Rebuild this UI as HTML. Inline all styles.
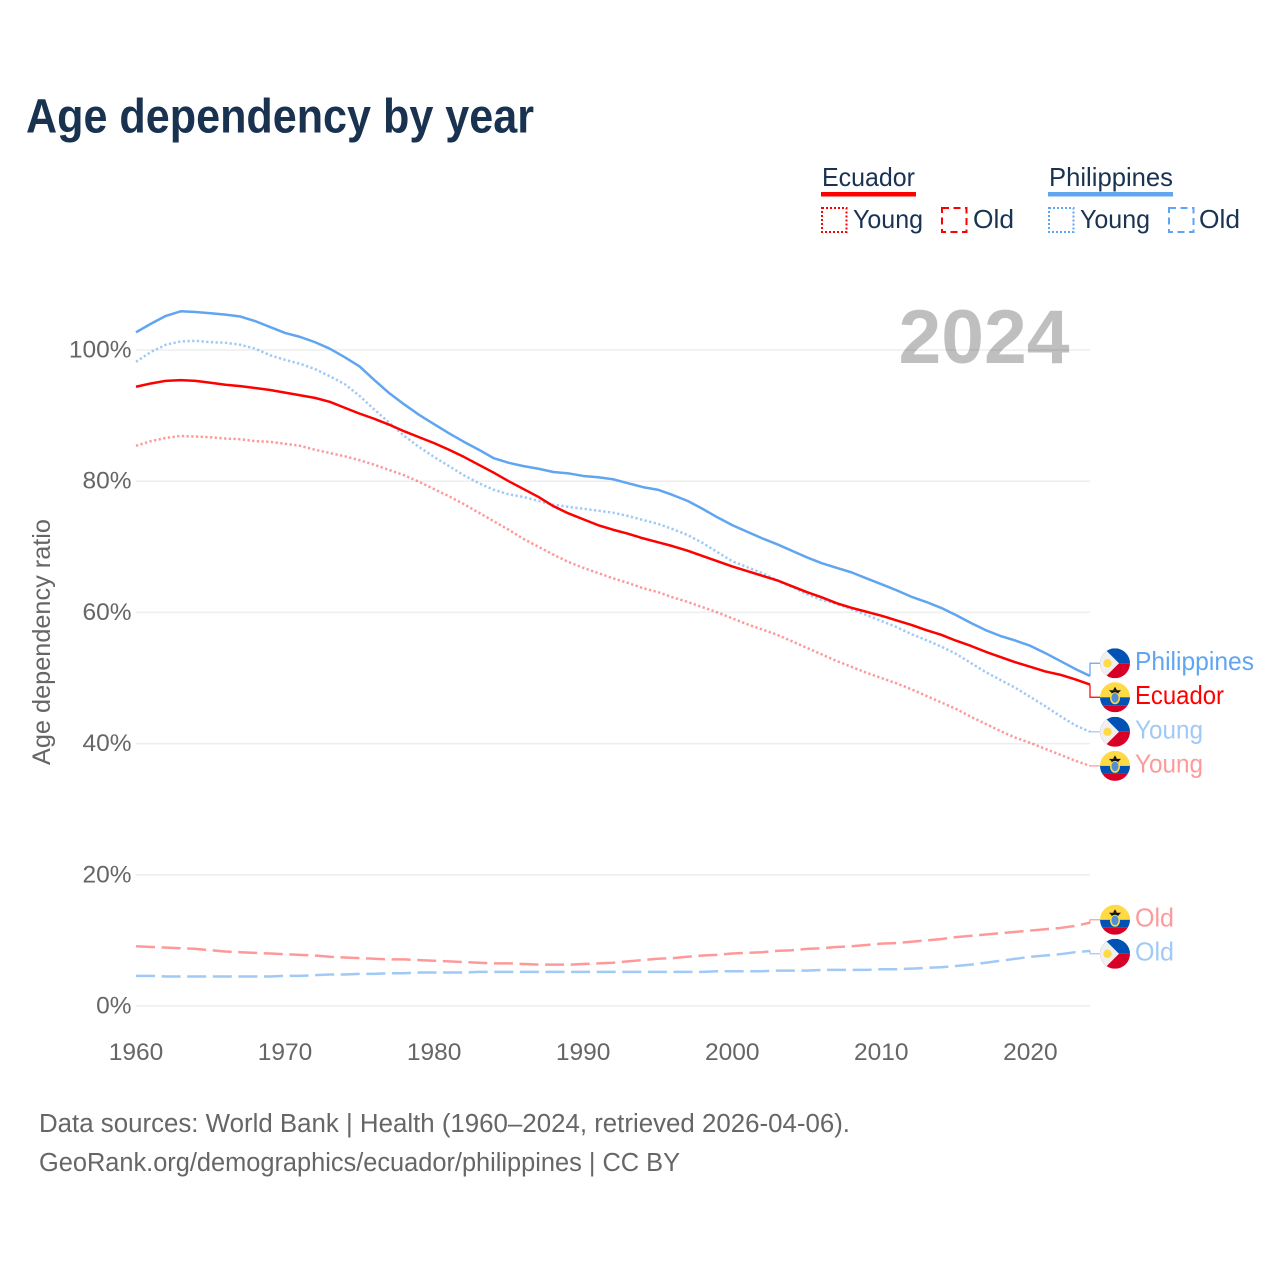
<!DOCTYPE html>
<html lang="en">
<head>
<meta charset="utf-8">
<title>Age dependency by year</title>
<style>
html,body{margin:0;padding:0;background:#fff;width:1280px;height:1280px;overflow:hidden}
svg{display:block;font-family:"Liberation Sans",sans-serif}
.tick{fill:#666;font-size:24.5px}
.leg{fill:#1a3353;font-size:26px}
.src{fill:#666;font-size:25.5px}
</style>
</head>
<body>
<svg id="chart" xmlns="http://www.w3.org/2000/svg" width="1280" height="1280" viewBox="0 0 1280 1280">
  <defs>
    <clipPath id="flag-clip"><circle cx="0" cy="0" r="15"/></clipPath>
  </defs>
  <text x="26" y="132.3" font-size="48" font-weight="700" fill="#183250" textLength="508" lengthAdjust="spacingAndGlyphs">Age dependency by year</text>

  <g>
    <text class="leg" x="822" y="186" textLength="93" lengthAdjust="spacingAndGlyphs">Ecuador</text>
    <rect x="821" y="192" width="95" height="4.5" fill="#ff0000"/>
    <rect x="822" y="208" width="24.5" height="24" fill="none" stroke="#ff0000" stroke-width="2" stroke-dasharray="2 2"/>
    <text class="leg" x="853" y="228" textLength="70" lengthAdjust="spacingAndGlyphs">Young</text>
    <rect x="942" y="208" width="24.5" height="24" fill="none" stroke="#ff0000" stroke-width="2" stroke-dasharray="7 4.5"/>
    <text class="leg" x="973" y="228" textLength="41" lengthAdjust="spacingAndGlyphs">Old</text>
    <text class="leg" x="1049" y="186" textLength="124" lengthAdjust="spacingAndGlyphs">Philippines</text>
    <rect x="1048" y="192" width="125" height="4.5" fill="#60a5f0"/>
    <rect x="1049" y="208" width="24.5" height="24" fill="none" stroke="#60a5f0" stroke-width="2" stroke-dasharray="2 2"/>
    <text class="leg" x="1080" y="228" textLength="70" lengthAdjust="spacingAndGlyphs">Young</text>
    <rect x="1169" y="208" width="24.5" height="24" fill="none" stroke="#60a5f0" stroke-width="2" stroke-dasharray="7 4.5"/>
    <text class="leg" x="1199" y="228" textLength="41" lengthAdjust="spacingAndGlyphs">Old</text>
  </g>

  <text transform="translate(50 642) rotate(-90)" text-anchor="middle" font-size="25" fill="#666" textLength="246" lengthAdjust="spacingAndGlyphs">Age dependency ratio</text>

  <g id="grid"></g>
  <g id="yticks"></g>
  <g id="xticks"></g>

  <text x="898.5" y="363" font-size="76" font-weight="700" fill="#000000" fill-opacity="0.25" textLength="171" lengthAdjust="spacingAndGlyphs">2024</text>

  <g id="series"></g>
  <g id="ends"></g>

  <text class="src" x="39" y="1132" textLength="811" lengthAdjust="spacingAndGlyphs">Data sources: World Bank | Health (1960–2024, retrieved 2026-04-06).</text>
  <text class="src" x="39" y="1171" textLength="641" lengthAdjust="spacingAndGlyphs">GeoRank.org/demographics/ecuador/philippines | CC BY</text>
</svg>
<script>
const years = [
  1960,1961,1962,1963,1964,1965,1966,1967,1968,1969,
  1970,1971,1972,1973,1974,1975,1976,1977,1978,1979,
  1980,1981,1982,1983,1984,1985,1986,1987,1988,1989,
  1990,1991,1992,1993,1994,1995,1996,1997,1998,1999,
  2000,2001,2002,2003,2004,2005,2006,2007,2008,2009,
  2010,2011,2012,2013,2014,2015,2016,2017,2018,2019,
  2020,2021,2022,2023,2024
];
const philippinesTotal = [
  102.7,104.0,105.2,105.9,105.8,105.6,105.4,105.1,104.4,103.5,
  102.6,102.0,101.2,100.2,98.9,97.5,95.4,93.4,91.7,90.1,
  88.7,87.3,86.0,84.8,83.5,82.8,82.3,81.9,81.4,81.2,
  80.8,80.6,80.3,79.7,79.1,78.7,77.9,77.0,75.8,74.5,
  73.3,72.3,71.3,70.4,69.4,68.4,67.5,66.8,66.1,65.2,
  64.3,63.4,62.4,61.6,60.7,59.6,58.4,57.3,56.4,55.7,
  54.9,53.8,52.6,51.4,50.3
];
const ecuadorTotal = [
  94.4,94.9,95.3,95.4,95.3,95.0,94.7,94.5,94.2,93.9,
  93.5,93.1,92.7,92.1,91.2,90.3,89.5,88.6,87.6,86.7,
  85.8,84.8,83.7,82.5,81.3,80.0,78.8,77.6,76.2,75.1,
  74.2,73.3,72.6,72.0,71.3,70.7,70.1,69.4,68.6,67.8,
  67.0,66.3,65.6,64.9,64.0,63.1,62.3,61.4,60.7,60.1,
  59.5,58.8,58.1,57.3,56.6,55.7,54.9,54.0,53.2,52.4,
  51.7,51.0,50.5,49.8,49.0
];
const philippinesYoung = [
  98.2,99.7,100.8,101.3,101.4,101.2,101.1,100.8,100.2,99.2,
  98.5,97.9,97.1,96.0,94.8,93.0,90.9,88.9,86.9,85.2,
  83.7,82.3,80.9,79.7,78.7,78.0,77.6,77.0,76.4,76.1,
  75.8,75.5,75.2,74.7,74.1,73.5,72.7,71.8,70.6,69.2,
  67.8,66.9,66.0,64.9,63.9,62.8,61.9,61.3,60.5,59.6,
  58.7,57.8,56.7,55.8,54.8,53.7,52.3,50.9,49.7,48.5,
  47.1,45.7,44.2,42.8,41.8
];
const ecuadorYoung = [
  85.4,86.1,86.6,86.9,86.8,86.7,86.5,86.4,86.1,86.0,
  85.7,85.4,84.8,84.3,83.8,83.2,82.5,81.7,80.9,79.9,
  78.8,77.7,76.5,75.2,73.9,72.6,71.2,70.0,68.8,67.7,
  66.8,66.0,65.2,64.5,63.7,63.1,62.3,61.6,60.8,60.0,
  59.1,58.2,57.4,56.6,55.6,54.6,53.6,52.6,51.7,50.8,
  50.0,49.2,48.3,47.3,46.3,45.3,44.1,43.0,41.9,40.9,
  40.1,39.2,38.3,37.4,36.6
];
const ecuadorOld = [
  9.1,9.0,8.9,8.8,8.7,8.5,8.3,8.2,8.1,8.0,
  7.9,7.8,7.7,7.5,7.4,7.3,7.2,7.1,7.1,7.0,
  6.9,6.8,6.7,6.6,6.5,6.5,6.4,6.3,6.3,6.3,
  6.4,6.5,6.6,6.8,7.0,7.2,7.3,7.5,7.7,7.8,
  8.0,8.1,8.2,8.4,8.5,8.7,8.8,9.0,9.1,9.3,
  9.5,9.6,9.8,10.0,10.2,10.5,10.7,10.9,11.1,11.3,
  11.5,11.7,11.9,12.2,12.7
];
const philippinesOld = [
  4.6,4.6,4.5,4.5,4.5,4.5,4.5,4.5,4.5,4.5,
  4.6,4.6,4.7,4.8,4.8,4.9,4.9,5.0,5.0,5.1,
  5.1,5.1,5.1,5.2,5.2,5.2,5.2,5.2,5.2,5.2,
  5.2,5.2,5.2,5.2,5.2,5.2,5.2,5.2,5.2,5.3,
  5.3,5.3,5.3,5.4,5.4,5.4,5.5,5.5,5.5,5.5,
  5.6,5.6,5.7,5.8,5.9,6.1,6.3,6.6,6.9,7.2,
  7.5,7.7,7.9,8.2,8.4
];
const xTickYears = [1960,1970,1980,1990,2000,2010,2020];
const yTickValues = [0,20,40,60,80,100];

const SVG_NS = 'http://www.w3.org/2000/svg';
function xScale(year){ return 136 + (year - 1960) * (1090 - 136) / (2024 - 1960); }
function yScale(value){ return 1006 - value * 6.56; }
function mk(tag, attrs, parent){
  const node = document.createElementNS(SVG_NS, tag);
  for (const k in attrs) node.setAttribute(k, attrs[k]);
  parent.appendChild(node);
  return node;
}
const gridGroup = document.getElementById('grid');
const yTickGroup = document.getElementById('yticks');
const xTickGroup = document.getElementById('xticks');
const seriesGroup = document.getElementById('series');
const endsGroup = document.getElementById('ends');

yTickValues.forEach(function(v){
  const line = mk('line', {x1:136, x2:1090, y1:yScale(v), y2:yScale(v), stroke:'#eeeeee', 'stroke-width':1.5}, gridGroup);
  
  
  const label = mk('text', {x:131.5, y:yScale(v) + 7.5, 'text-anchor':'end', class:'tick'}, yTickGroup);
  label.textContent = v + '%';
  
  
});
xTickYears.forEach(function(y){
  const label = mk('text', {x:xScale(y), y:1060, 'text-anchor':'middle', class:'tick'}, xTickGroup);
  label.textContent = y;
  
  
});

const RED = '#ff0000', BLUE = '#60a5f0';
const DOT = '2.3 2.4', DASH = '19 6.6';
const seriesList = [
  {id:'ecuador-old', values:ecuadorOld, color:RED, opacity:.4, dash:DASH, flag:'ec', text:'Old', len:39},
  {id:'philippines-old', values:philippinesOld, color:BLUE, opacity:.6, dash:DASH, flag:'ph', text:'Old', len:39},
  {id:'ecuador-young', values:ecuadorYoung, color:RED, opacity:.4, dash:DOT, flag:'ec', text:'Young', len:68},
  {id:'philippines-young', values:philippinesYoung, color:BLUE, opacity:.6, dash:DOT, flag:'ph', text:'Young', len:68},
  {id:'ecuador-total', values:ecuadorTotal, color:RED, opacity:1, dash:null, flag:'ec', text:'Ecuador', len:89},
  {id:'philippines-total', values:philippinesTotal, color:BLUE, opacity:1, dash:null, flag:'ph', text:'Philippines', len:119}
];

seriesList.forEach(function(s){
  const d = s.values.map(function(v, i){
    return (i ? 'L' : 'M') + xScale(years[i]).toFixed(2) + ' ' + yScale(v).toFixed(2);
  }).join('');
  const path = mk('path', {d:d, fill:'none', stroke:s.color, 'stroke-opacity':s.opacity, 'stroke-width':2.5, 'stroke-linejoin':'round'}, seriesGroup);
  if (s.dash) path.setAttribute('stroke-dasharray', s.dash);
  
  
});

/* end labels: spread overlapping label positions around the line ends */
const MIN_GAP = 34;
const placed = seriesList.map(function(s){
  const endY = yScale(s.values[s.values.length - 1]);
  return {s:s, endY:endY, y:endY};
}).sort(function(a, b){ return a.endY - b.endY; });
let clusters = placed.map(function(p){ return {items:[p], top:p.y}; });
let merged = true;
function mean(c){ return c.items.reduce(function(t, p){ return t + p.endY; }, 0) / c.items.length; }
while (merged) {
  merged = false;
  for (let i = 0; i < clusters.length - 1; i++) {
    const a = clusters[i], b = clusters[i + 1];
    if (a.top + (a.items.length - 1) * MIN_GAP + MIN_GAP > b.top) {
      a.items = a.items.concat(b.items);
      a.top = mean(a) - (a.items.length - 1) * MIN_GAP / 2;
      clusters.splice(i + 1, 1);
      merged = true;
      break;
    }
  }
}
clusters.forEach(function(c){ c.items.forEach(function(p, i){ p.y = c.top + i * MIN_GAP; }); });

function drawFlag(kind, group){
  const clip = mk('g', {'clip-path':'url(#flag-clip)'}, group);
  if (kind === 'ph') {
    mk('rect', {x:-15, y:-15, width:30, height:15, fill:'#0052b4'}, clip);
    mk('rect', {x:-15, y:0, width:30, height:15, fill:'#d80027'}, clip);
    mk('polygon', {points:'4,0 -11,-15 -16,-15 -16,15 -11,15', fill:'#f0f0f0'}, clip);
    mk('circle', {cx:-7.5, cy:0, r:4.2, fill:'#ffda44'}, clip);
  } else {
    mk('rect', {x:-15, y:-15, width:30, height:15, fill:'#ffda44'}, clip);
    mk('rect', {x:-15, y:0, width:30, height:8, fill:'#0052b4'}, clip);
    mk('rect', {x:-15, y:8, width:30, height:7, fill:'#d80027'}, clip);
    mk('polygon', {points:'-6,-7 6,-7 3.5,-4.5 3,-2.5 -3,-2.5 -3.5,-4.5', fill:'#111111'}, clip);
    mk('polygon', {points:'-2,-7 2,-7 0,-10.5', fill:'#111111'}, clip);
    mk('ellipse', {cx:0, cy:1, rx:5, ry:6, fill:'#ffda44'}, clip);
    mk('ellipse', {cx:0, cy:0.5, rx:3.5, ry:4.8, fill:'#4f8fd8'}, clip);
  }
}

placed.forEach(function(p){
  const s = p.s;
  const conn = mk('path', {d:'M1090 ' + p.endY.toFixed(1) + 'V' + p.y.toFixed(1) + 'H1100', fill:'none', stroke:s.color, 'stroke-opacity':s.opacity, 'stroke-width':1.25}, endsGroup);
  
  
  const flag = mk('g', {transform:'translate(1115 ' + p.y.toFixed(1) + ')'}, endsGroup);
  
  
  drawFlag(s.flag, flag);
  const label = mk('text', {x:1135, y:(p.y + 6.5).toFixed(1), 'font-size':26, fill:s.color, 'fill-opacity':s.opacity, textLength:s.len, lengthAdjust:'spacingAndGlyphs'}, endsGroup);
  label.textContent = s.text;
  
  
});
</script>
</body>
</html>
